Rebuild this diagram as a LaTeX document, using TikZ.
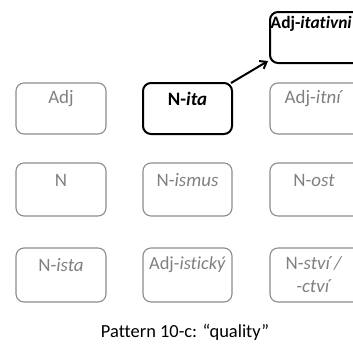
\documentclass[tikz,border=0pt]{standalone}
\usepackage{fontspec}
\setmainfont[Ligatures=NoCommon]{Carlito}
\usetikzlibrary{arrows.meta}
\begin{document}
\begin{tikzpicture}[x=1bp,y=-1bp,
  gbox/.style={draw=black!45,line width=1.1bp,rounded corners=8bp},
  bbox/.style={draw=black,line width=2bp,rounded corners=8bp},
  glab/.style={text=black!50,font=\fontsize{19}{21}\selectfont,anchor=center,inner sep=0pt},
  blab/.style={text=black,font=\bfseries\fontsize{19}{21}\selectfont,anchor=center,inner sep=0pt}]
\clip (0,0) rectangle (353,347);
\useasboundingbox (0,0) rectangle (353,347);
% row 1
\draw[gbox] (16,83) rectangle (106,134);
\node[glab] (adj) at (61,99) {Adj};
\draw[bbox] (143,83) rectangle (232,134);
\node[blab] (nita) at (187.5,99) {N-\textit{ita}};
\draw[gbox] (270,83) rectangle (362,134);
\node[glab] (adjitni) at (314,99) {Adj-\textit{itní}};
% top
\draw[bbox] (270,12) rectangle (362,63);
\node[blab,anchor=base west,font=\bfseries\fontsize{17.5}{20}\selectfont] (adjitat) at (270.5,28) {Adj-\textit{itativni}};
% row 2
\draw[gbox] (16,163) rectangle (106,216);
\node[glab] (n) at (61,180) {N};
\draw[gbox] (143,163) rectangle (232,216);
\node[glab] (nismus) at (187.5,180) {N-\textit{ismus}};
\draw[gbox] (270,163) rectangle (362,216);
\node[glab] (nost) at (314,180) {N-\textit{ost}};
% row 3
\draw[gbox] (16,248) rectangle (106,302);
\node[glab] (nista) at (61,265) {N-\textit{ista}};
\draw[gbox] (143,248) rectangle (232,302);
\node[glab,font=\fontsize{18.5}{21}\selectfont] (adjist) at (187.5,265) {Adj-\textit{istický}};
\draw[gbox] (270,248) rectangle (362,302);
\node[glab,align=center,font=\fontsize{19}{23}\selectfont] (nstvi) at (314,275) {N-\textit{ství /}\\\textit{-ctví}};
% arrow
\coordinate (a0) at (231,83);
\coordinate (a1) at (268,61);
\draw[line width=2bp,-{Straight Barb[length=6bp,width=9bp]}] (a0) -- (a1);
% caption
\node[text=black,font=\fontsize{18.5}{21}\selectfont] (cap) at (185,332) {Pattern 10-c: “quality”};
\end{tikzpicture}
\end{document}
